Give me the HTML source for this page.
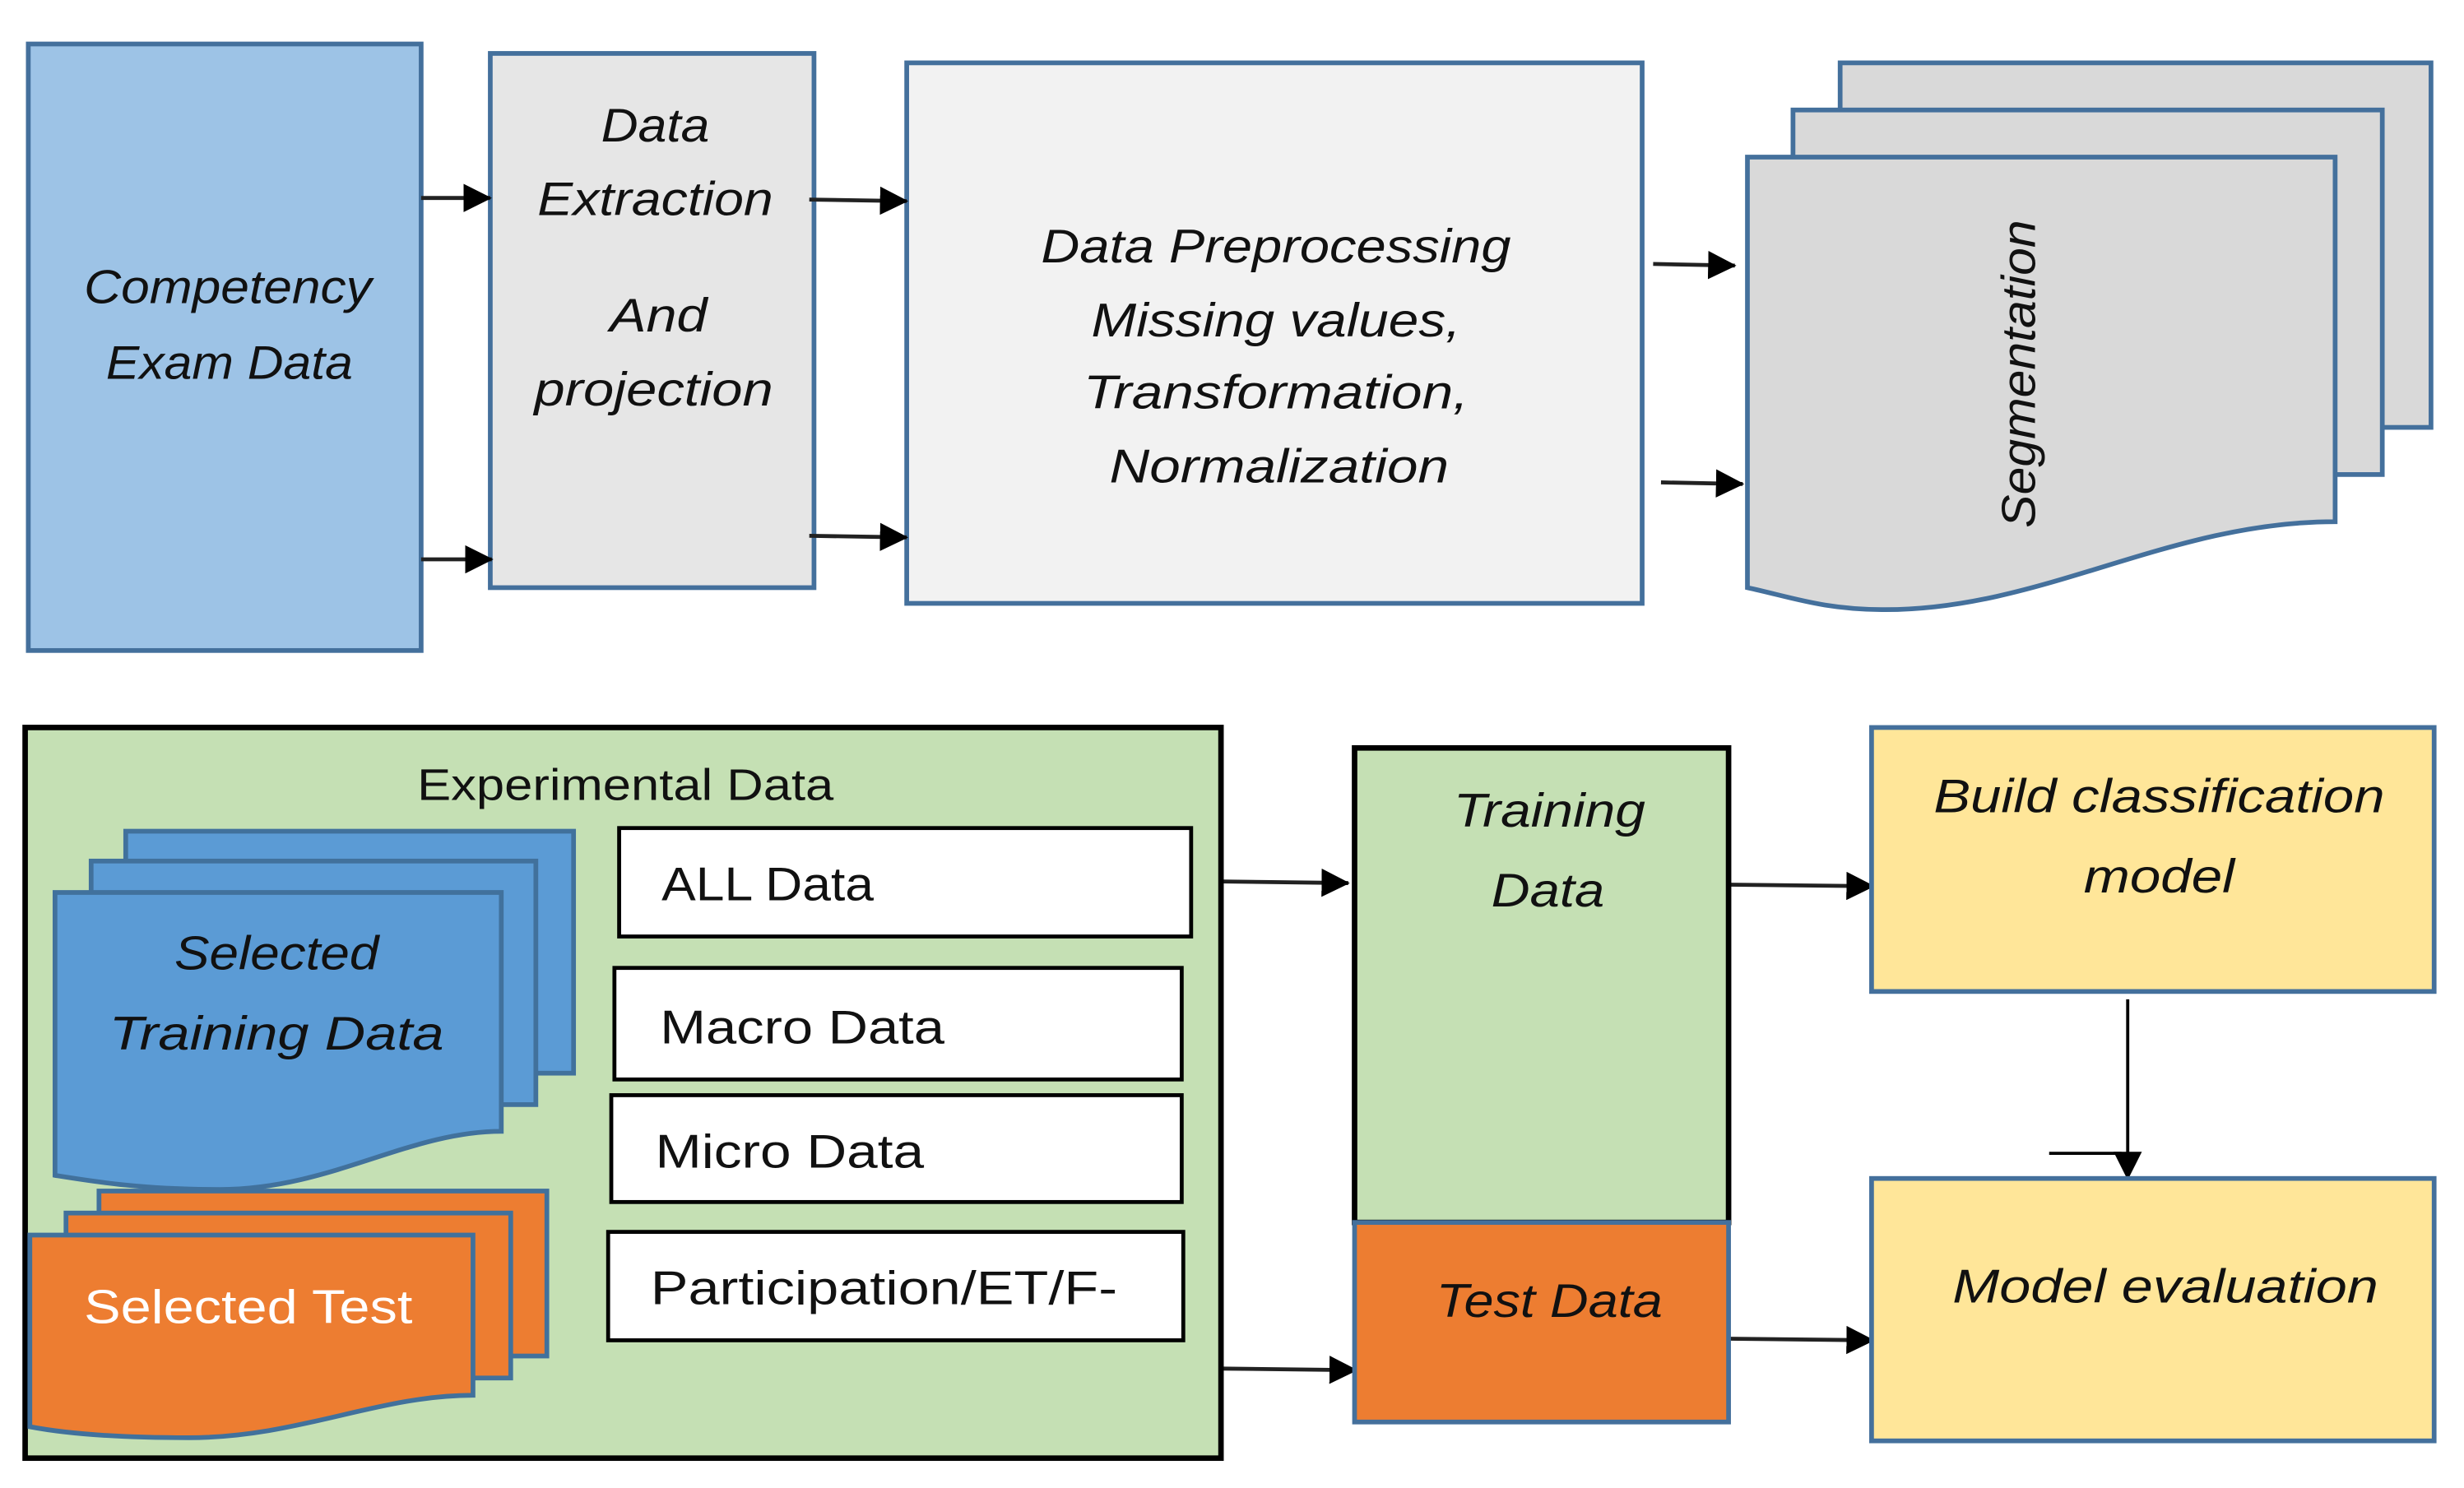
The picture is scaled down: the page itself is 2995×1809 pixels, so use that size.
<!DOCTYPE html>
<html><head><meta charset="utf-8"><style>
html,body{margin:0;padding:0;background:#fff;}
svg{display:block;}
text{font-family:"Liberation Sans",sans-serif;fill:#111;}
.i{font-style:italic;}
</style></head><body>
<svg width="2995" height="1809" viewBox="0 0 1568 947" preserveAspectRatio="none" xmlns="http://www.w3.org/2000/svg">
<defs>
<marker id="a" markerWidth="10" markerHeight="10" refX="9" refY="5" orient="auto" markerUnits="userSpaceOnUse">
<path d="M0,0 L10,5 L0,10 z" fill="#000"/></marker>
<marker id="b" markerWidth="18" markerHeight="18" refX="17" refY="9" orient="auto" markerUnits="userSpaceOnUse">
<path d="M0,0 L18,9 L0,18 z" fill="#000"/></marker>
</defs>
<g stroke="#44709c" stroke-width="3">
<rect x="18" y="28" width="250" height="386" fill="#9dc3e6"/>
<rect x="312" y="34" width="206" height="340" fill="#e6e6e6"/>
<rect x="577" y="40" width="468" height="344" fill="#f2f2f2"/>
<rect x="1171" y="40" width="376" height="232" fill="#d9d9d9"/>
<rect x="1141" y="70" width="375" height="232" fill="#d9d9d9"/>
<path d="M1112,100 H1486 V332 C1380,332 1300,388 1200,388 C1160,388 1140,380 1112,374 Z" fill="#d9d9d9"/>
</g>
<g font-size="30" class="i">
<text class="i" x="145" y="193" text-anchor="middle" textLength="183" lengthAdjust="spacingAndGlyphs">Competency</text>
<text class="i" x="146" y="241" text-anchor="middle" textLength="157" lengthAdjust="spacingAndGlyphs">Exam Data</text>
<text class="i" x="417" y="90" text-anchor="middle" textLength="69" lengthAdjust="spacingAndGlyphs">Data</text>
<text class="i" x="417" y="137" text-anchor="middle" textLength="150" lengthAdjust="spacingAndGlyphs">Extraction</text>
<text class="i" x="419" y="211" text-anchor="middle" textLength="62" lengthAdjust="spacingAndGlyphs">And</text>
<text class="i" x="416" y="258" text-anchor="middle" textLength="152" lengthAdjust="spacingAndGlyphs">projection</text>
<text class="i" x="812" y="167" text-anchor="middle" textLength="299" lengthAdjust="spacingAndGlyphs">Data Preprocessing</text>
<text class="i" x="812" y="214" text-anchor="middle" textLength="235" lengthAdjust="spacingAndGlyphs">Missing values,</text>
<text class="i" x="812" y="260" text-anchor="middle" textLength="245" lengthAdjust="spacingAndGlyphs">Transformation,</text>
<text class="i" x="814" y="307" text-anchor="middle" textLength="216" lengthAdjust="spacingAndGlyphs">Normalization</text>
<text class="i" transform="translate(1295,238) rotate(-90)" text-anchor="middle" textLength="196" lengthAdjust="spacingAndGlyphs">Segmentation</text>
</g>
<g stroke="#222" stroke-width="2.5">
<line x1="268" y1="126" x2="312" y2="126" marker-end="url(#b)"/>
<line x1="268" y1="356" x2="313" y2="356" marker-end="url(#b)"/>
<line x1="515" y1="127" x2="577" y2="128" marker-end="url(#b)"/>
<line x1="515" y1="341" x2="577" y2="342" marker-end="url(#b)"/>
<line x1="1052" y1="168" x2="1104" y2="169" marker-end="url(#b)"/>
<line x1="1057" y1="307" x2="1109" y2="308" marker-end="url(#b)"/>
<line x1="777" y1="561" x2="858" y2="562" marker-end="url(#b)"/>
<line x1="777" y1="871" x2="863" y2="872" marker-end="url(#b)"/>
<line x1="1100" y1="563" x2="1192" y2="564" marker-end="url(#b)"/>
<line x1="1100" y1="852" x2="1192" y2="853" marker-end="url(#b)"/>
</g>
<line x1="1354" y1="636" x2="1354" y2="750" stroke="#000" stroke-width="2" marker-end="url(#b)"/>
<line x1="1304" y1="734" x2="1350" y2="734" stroke="#000" stroke-width="2"/>
<rect x="16" y="463" width="761" height="465" fill="#c5e0b4" stroke="#000" stroke-width="3.5"/>
<text x="398" y="509" text-anchor="middle" font-size="28" textLength="265" lengthAdjust="spacingAndGlyphs">Experimental Data</text>
<g stroke="#41719c" stroke-width="3" fill="#5b9bd5">
<rect x="80" y="529" width="285" height="154"/>
<rect x="58" y="548" width="283" height="155"/>
<path d="M35,568 H319 V720 C260,720 210,757 140,757 C90,757 60,752 35,748 Z"/>
</g>
<g stroke="#41719c" stroke-width="3" fill="#ed7d31">
<rect x="63" y="758" width="285" height="105"/>
<rect x="42" y="772" width="283" height="105"/>
<path d="M19,786 H301 V888 C240,888 190,915 120,915 C70,915 40,912 19,908 Z"/>
</g>
<text class="i" x="176" y="617" text-anchor="middle" font-size="30" textLength="130" lengthAdjust="spacingAndGlyphs">Selected</text>
<text class="i" x="176" y="668" text-anchor="middle" font-size="30" textLength="213" lengthAdjust="spacingAndGlyphs">Training Data</text>
<text x="158" y="842" text-anchor="middle" font-size="30" style="fill:#fff" textLength="209" lengthAdjust="spacingAndGlyphs">Selected Test</text>
<g fill="#fff" stroke="#000" stroke-width="2.5">
<rect x="394" y="527" width="364" height="69"/>
<rect x="391" y="616" width="361" height="71"/>
<rect x="389" y="697" width="363" height="68"/>
<rect x="387" y="784" width="366" height="69"/>
</g>
<g font-size="30">
<text x="421" y="573" textLength="135" lengthAdjust="spacingAndGlyphs">ALL Data</text>
<text x="420" y="664" textLength="181" lengthAdjust="spacingAndGlyphs">Macro Data</text>
<text x="417" y="743" textLength="171" lengthAdjust="spacingAndGlyphs">Micro Data</text>
<text x="414" y="830" textLength="297" lengthAdjust="spacingAndGlyphs">Participation/ET/F-</text>
</g>
<rect x="862" y="476" width="238" height="302" fill="#c5e0b4" stroke="#000" stroke-width="3.5"/>
<rect x="862" y="778" width="238" height="127" fill="#ed7d31" stroke="#44709c" stroke-width="3"/>
<rect x="1191" y="463" width="358" height="168" fill="#ffe699" stroke="#44709c" stroke-width="3"/>
<rect x="1191" y="750" width="358" height="167" fill="#ffe699" stroke="#44709c" stroke-width="3"/>
<g font-size="30">
<text class="i" x="986" y="526" text-anchor="middle" textLength="122" lengthAdjust="spacingAndGlyphs">Training</text>
<text class="i" x="985" y="577" text-anchor="middle" textLength="72" lengthAdjust="spacingAndGlyphs">Data</text>
<text class="i" x="986" y="838" text-anchor="middle" textLength="144" lengthAdjust="spacingAndGlyphs">Test Data</text>
<text class="i" x="1374" y="517" text-anchor="middle" textLength="287" lengthAdjust="spacingAndGlyphs">Build classification</text>
<text class="i" x="1374" y="568" text-anchor="middle" textLength="96" lengthAdjust="spacingAndGlyphs">model</text>
<text class="i" x="1378" y="829" text-anchor="middle" textLength="271" lengthAdjust="spacingAndGlyphs">Model evaluation</text>
</g>
</svg>
</body></html>
